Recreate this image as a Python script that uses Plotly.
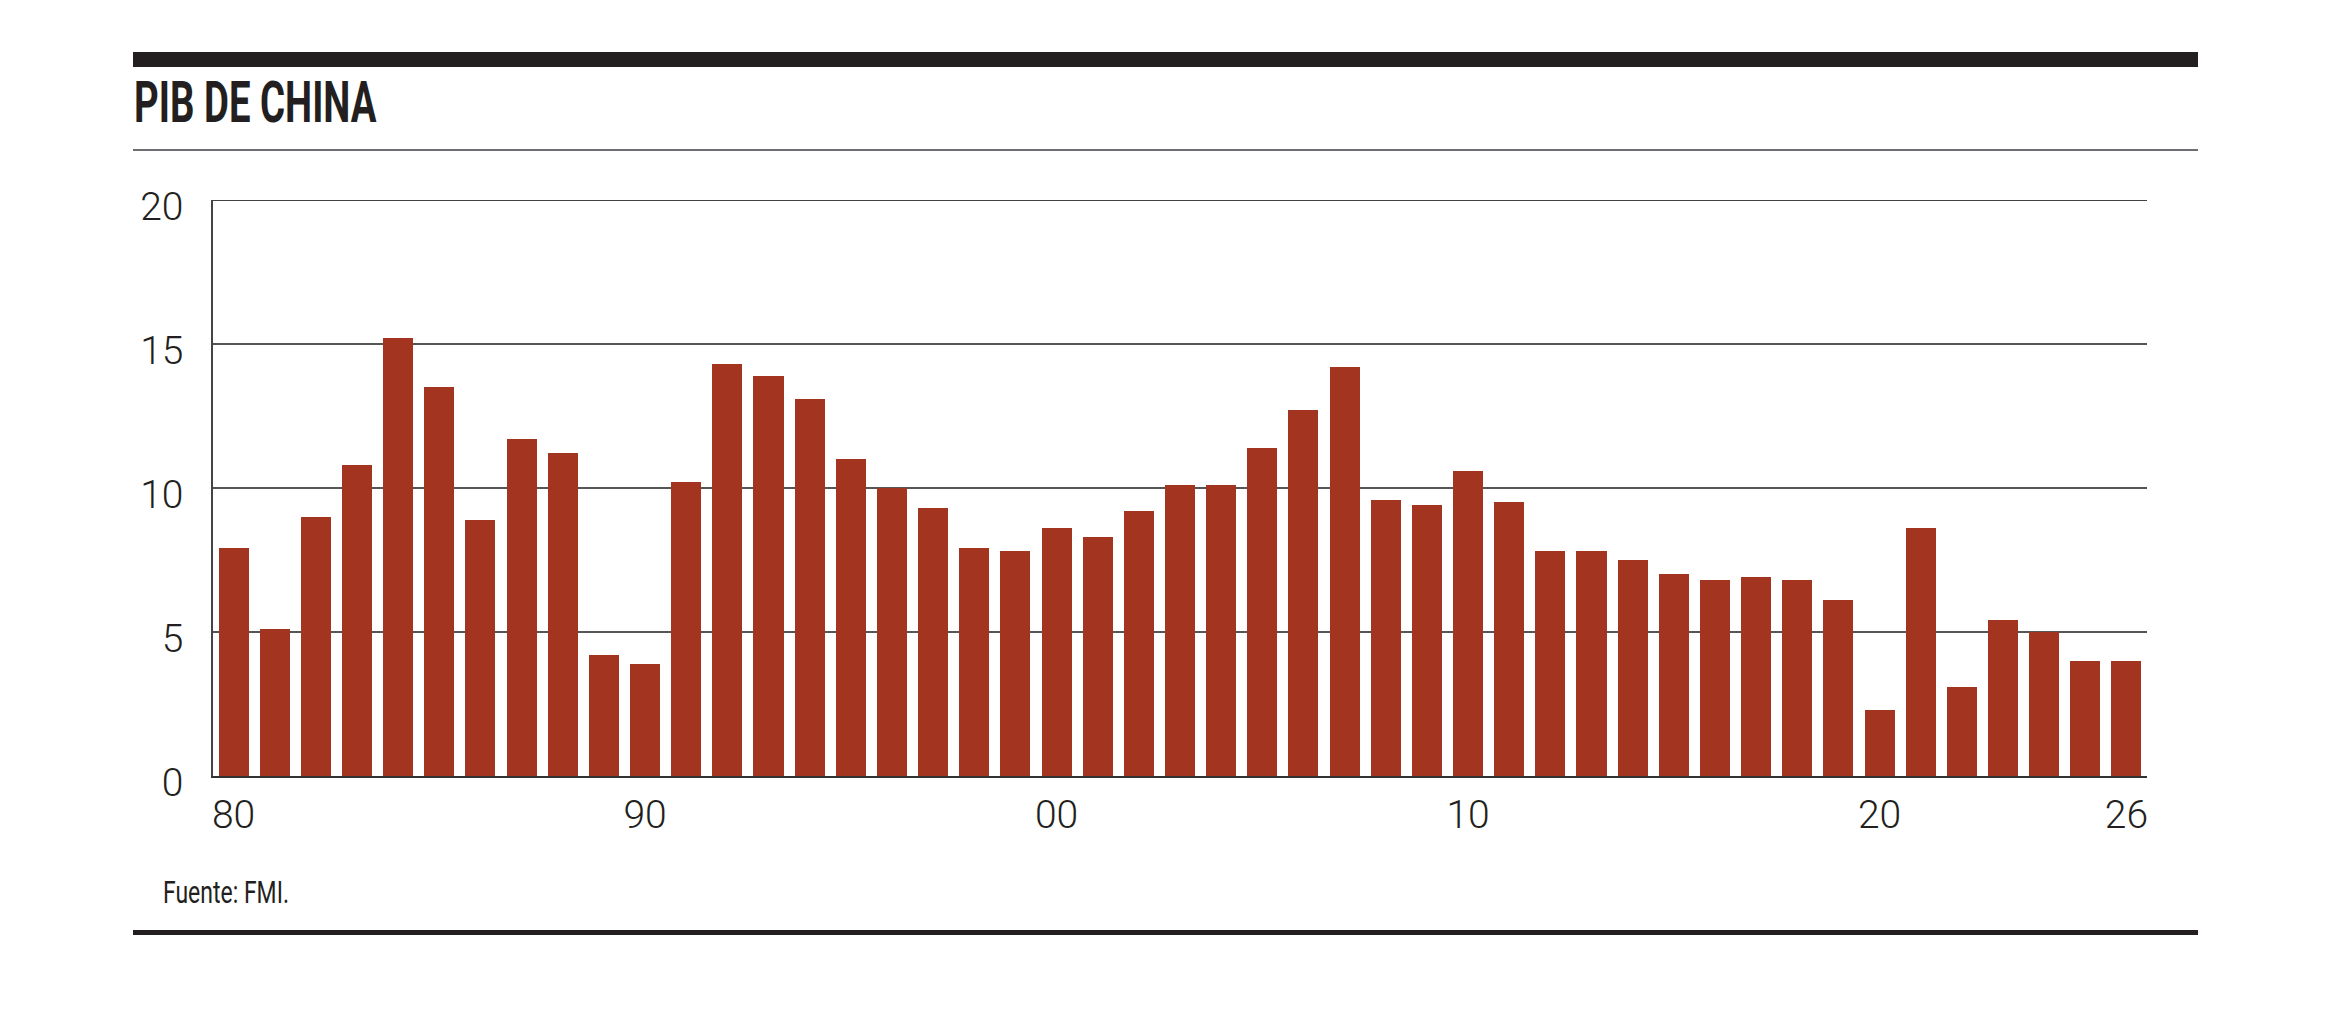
import json
import plotly.graph_objects as go

years = list(range(1980, 2027))
gdp_growth = [7.9, 5.1, 9.0, 10.8, 15.2, 13.5, 8.9, 11.7, 11.2, 4.2,
              3.9, 10.2, 14.3, 13.9, 13.1, 11.0, 10.0, 9.3, 7.9, 7.8,
              8.6, 8.3, 9.2, 10.1, 10.1, 11.4, 12.7, 14.2, 9.6, 9.4,
              10.6, 9.5, 7.8, 7.8, 7.5, 7.0, 6.8, 6.9, 6.8, 6.1,
              2.3, 8.6, 3.1, 5.4, 5.0, 4.0, 4.0]
x_tickvals = [1980, 1990, 2000, 2010, 2020, 2026]
x_ticktext = ["80", "90", "00", "10", "20", "26"]
y_tickvals = [0, 5, 10, 15, 20]
title_text = "PIB DE CHINA"
source_text = "Fuente: FMI."

W, H = 2326, 1025
OFF = 8  # page body margin
DARK = "#231f20"
BAR = "#a3341f"
GRID = "#555555"

def px(x):
    return (x - OFF) / W

def py(y):
    return 1 - (y - OFF) / H

fig = go.Figure()
fig.add_trace(go.Bar(x=years, y=gdp_growth, width=0.73,
                     marker=dict(color=BAR, line=dict(width=0)),
                     hoverinfo="x+y"))

light_font = dict(family="Roboto, Lato, 'Open Sans', sans-serif", size=39, color=DARK, weight=300)

fig.update_layout(
    template="none",
    width=W, height=H,
    margin=dict(l=0, r=0, t=0, b=0, pad=0, autoexpand=False),
    paper_bgcolor="white", plot_bgcolor="white",
    showlegend=False, bargap=0,
    xaxis=dict(domain=[px(213), px(2147)], range=[1979.5, 2026.5],
               automargin=False,
               tickvals=x_tickvals, ticktext=x_ticktext,
               showgrid=False, zeroline=False,
               showline=True, linecolor="#333333", linewidth=1.5,
               ticks="", tickfont=light_font, ticklabelstandoff=3),
    yaxis=dict(domain=[py(776), py(200)], range=[0, 20],
               automargin=False,
               tickvals=y_tickvals,
               showgrid=True, gridcolor=GRID, gridwidth=1.5,
               zeroline=False,
               showline=True, linecolor="#444444", linewidth=1.5,
               ticks="", tickfont=light_font, ticklabelstandoff=20,
               ticklabelshift=6),
)

shapes = [
    dict(type="rect", xref="paper", yref="paper", x0=px(133), x1=px(2198),
         y0=py(67), y1=py(52), fillcolor=DARK, line=dict(width=0)),
    dict(type="line", xref="paper", yref="paper", x0=px(133), x1=px(2198),
         y0=py(150), y1=py(150), line=dict(color="#6d6e71", width=2)),
    dict(type="rect", xref="paper", yref="paper", x0=px(133), x1=px(2198),
         y0=py(935), y1=py(930), fillcolor=DARK, line=dict(width=0)),
    dict(type="line", xref="paper", yref="y", x0=px(213), x1=px(2147),
         y0=y_tickvals[-1], y1=y_tickvals[-1], line=dict(color="#444444", width=2)),
]
fig.update_layout(shapes=shapes)

fig.add_annotation(text=title_text, xref="paper", yref="paper",
                   x=px(132), y=py(103), xanchor="left", yanchor="middle",
                   showarrow=False,
                   font=dict(family="Roboto, 'DejaVu Sans Condensed', sans-serif",
                             size=57, color=DARK, weight=700))
fig.add_annotation(text=source_text, xref="paper", yref="paper",
                   x=px(161), y=py(892), xanchor="left", yanchor="middle",
                   showarrow=False,
                   font=dict(family="Roboto, 'DejaVu Sans Condensed', sans-serif",
                             size=32, color=DARK, weight=400))

# condense the title and source text horizontally (the reference uses a condensed face)
targets = {title_text: 243, source_text: 126}
post = """
var gd = document.getElementById('{plot_id}');
var targets = """ + json.dumps(targets) + """;
function squeeze(){
  var ts = gd.querySelectorAll('text.annotation-text');
  ts.forEach(function(t){
    var w0 = targets[t.textContent];
    if(!w0) return;
    t.style.transform = 'none';
    var w = t.getBBox().width;
    if(!w) return;
    t.style.transformBox = 'fill-box';
    t.style.transformOrigin = 'left center';
    t.style.transform = 'scaleX(' + (w0 / w) + ')';
  });
}
squeeze();
gd.on('plotly_afterplot', squeeze);
"""

fig.write_html("out.html", post_script=post)
